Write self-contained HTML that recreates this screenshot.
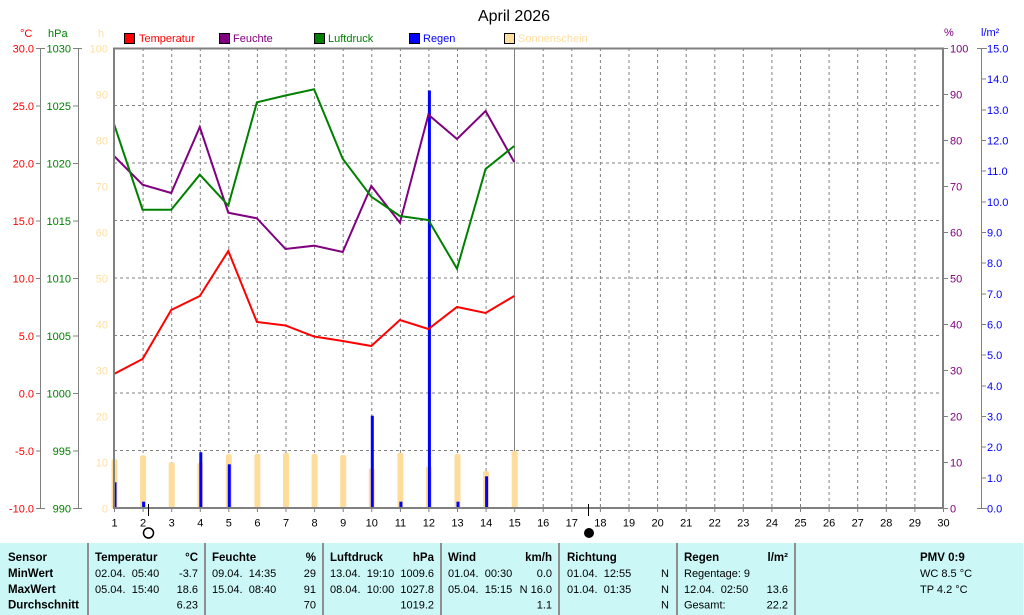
<!DOCTYPE html>
<html><head><meta charset="utf-8"><style>
html,body{margin:0;padding:0;background:#fff;}
svg{display:block;font-family:"Liberation Sans",Arial,sans-serif;}
text{white-space:pre;}
</style></head><body>
<svg width="1024" height="615" viewBox="0 0 1024 615" xmlns="http://www.w3.org/2000/svg">
<rect width="1024" height="615" fill="#fff"/>
<text x="514" y="21" font-size="16" text-anchor="middle" fill="#000">April 2026</text>
<g font-size="11">
<text x="20" y="37" fill="#f00">°C</text>
<text x="48" y="37" fill="#008000">hPa</text>
<text x="98" y="37" fill="#ffdf9f">h</text>
<text x="944" y="36" fill="#800080">%</text>
<text x="981" y="36" fill="#00f">l/m²</text>
<rect x="124.5" y="33.5" width="10" height="10" fill="#f00" stroke="#000"/>
<text x="139" y="42" fill="#f00">Temperatur</text>
<rect x="219.5" y="33.5" width="10" height="10" fill="#800080" stroke="#000"/>
<text x="233" y="42" fill="#800080">Feuchte</text>
<rect x="314.5" y="33.5" width="10" height="10" fill="#008000" stroke="#000"/>
<text x="328" y="42" fill="#008000">Luftdruck</text>
<rect x="409.5" y="33.5" width="10" height="10" fill="#00f" stroke="#000"/>
<text x="423" y="42" fill="#00f">Regen</text>
<rect x="504.5" y="33.5" width="10" height="10" fill="#ffdf9f" stroke="#000"/>
<text x="518" y="42" fill="#ffdf9f">Sonnenschein</text>
</g>
<!-- grid -->
<g stroke="#808080" stroke-width="1" stroke-dasharray="3,3" fill="none">
<path d="M114 105.5H943M114 163H943M114 220.5H943M114 278H943M114 335.5H943M114 393H943M114 450.5H943"/>
<path d="M143.1 48V508M171.7 48V508M200.3 48V508M228.8 48V508M257.4 48V508M286 48V508M314.6 48V508M343.2 48V508M371.8 48V508M400.4 48V508M428.9 48V508M457.5 48V508M486.1 48V508M543.2 48V508M571.8 48V508M600.4 48V508M629 48V508M657.6 48V508M686.2 48V508M714.8 48V508M743.3 48V508M771.9 48V508M800.5 48V508M829.1 48V508M857.7 48V508M886.3 48V508M914.9 48V508"/>
</g>
<path d="M514.5 48V508" stroke="#808080" stroke-width="1"/>
<!-- sunshine bars -->
<g fill="#fddc9c">
<rect x="111.5" y="459.3" width="6" height="49" rx="2"/>
<rect x="140.1" y="455.3" width="6" height="53" rx="2"/>
<rect x="168.7" y="462.3" width="6" height="46" rx="2"/>
<rect x="197.3" y="462.7" width="6" height="46" rx="2"/>
<rect x="225.8" y="454.3" width="6" height="54" rx="2"/>
<rect x="254.4" y="454" width="6" height="54" rx="2"/>
<rect x="283" y="453" width="6" height="55" rx="2"/>
<rect x="311.6" y="454" width="6" height="54" rx="2"/>
<rect x="340.2" y="455" width="6" height="53" rx="2"/>
<rect x="368.8" y="468.3" width="6" height="40" rx="2"/>
<rect x="397.4" y="452.7" width="6" height="55" rx="2"/>
<rect x="425.9" y="466.3" width="6" height="42" rx="2"/>
<rect x="454.5" y="454" width="6" height="54" rx="2"/>
<rect x="483.1" y="471" width="6" height="37" rx="2"/>
<rect x="511.7" y="451" width="6" height="57" rx="2"/>
</g>
<!-- rain bars -->
<g fill="#00f">
<rect x="113.5" y="482.3" width="3" height="26"/>
<rect x="142.1" y="501.7" width="3" height="7"/>
<rect x="199.3" y="452.3" width="3" height="56"/>
<rect x="227.8" y="464.3" width="3" height="44"/>
<rect x="370.8" y="415.7" width="3" height="93"/>
<rect x="399.4" y="501.7" width="3" height="7"/>
<rect x="427.9" y="90.5" width="3" height="418"/>
<rect x="456.5" y="501.7" width="3" height="7"/>
<rect x="485.1" y="476.3" width="3" height="32"/>
</g>
<!-- lines -->
<g fill="none" stroke-width="2" stroke-linejoin="miter">
<polyline stroke="#f00" points="114,374 142.6,359 171.2,310 199.8,296 228.3,251 256.9,322 285.5,325.5 314.1,336.5 342.7,341 371.3,346 399.9,320 428.4,329 457,307 485.6,313 514.2,296"/>
<polyline stroke="#800080" points="114,156 142.6,184.7 171.2,193 199.8,127 228.3,212.7 256.9,218.3 285.5,249 314.1,245.7 342.7,252 371.3,186 399.9,222.7 428.4,114.7 457,139 485.6,111 514.2,162"/>
<polyline stroke="#008000" points="114,124 142.6,209.7 171.2,209.7 199.8,174.7 228.3,205.5 256.9,102.3 285.5,95.5 314.1,89.3 342.7,158.7 371.3,196.7 399.9,216 428.4,220 457,268.7 485.6,169 514.2,146"/>
</g>
<!-- plot border -->
<rect x="114" y="48.5" width="829" height="459.5" fill="none" stroke="#808080" stroke-width="2"/>
<!-- x ticks -->
<g stroke="#808080" stroke-width="1">
<path d="M114.5 508V512M143.1 508V512M171.7 508V512M200.3 508V512M228.8 508V512M257.4 508V512M286 508V512M314.6 508V512M343.2 508V512M371.8 508V512M400.4 508V512M428.9 508V512M457.5 508V512M486.1 508V512M514.7 508V512M543.2 508V512M571.8 508V512M600.4 508V512M629 508V512M657.6 508V512M686.2 508V512M714.8 508V512M743.3 508V512M771.9 508V512M800.5 508V512M829.1 508V512M857.7 508V512M886.3 508V512M914.9 508V512M943.5 508V512"/>
<!-- left axes -->
<path d="M40.5 48V508M36 48.5H45M36 106H41M36 163.5H41M36 221H41M36 278.5H41M36 336H41M36 393.5H41M36 451H41M36 508.5H45"/>
<path d="M78.5 48V508M73 48.5H82M73 106H78M73 163.5H78M73 221H78M73 278.5H78M73 336H78M73 393.5H78M73 451H78M73 508.5H82"/>
<!-- right axes -->
<path d="M943 48.5H948M943 94.5H948M943 140.5H948M943 186.5H948M943 232.5H948M943 278.5H948M943 324.5H948M943 370.5H948M943 416.5H948M943 462.5H948M943 508.5H948"/>
<path d="M981.5 48V508M977 48.5H987M981.5 79H986M981.5 110H986M981.5 140.5H986M981.5 171H986M981.5 202H986M981.5 232.5H986M981.5 263H986M981.5 294H986M981.5 324.5H986M981.5 355H986M981.5 386H986M981.5 416.5H986M981.5 447H986M981.5 478H986M977 508.5H987"/>
</g>
<g font-size="11">
<g fill="#f00" text-anchor="end">
<text x="34" y="52.5">30.0</text><text x="34" y="110">25.0</text><text x="34" y="167.5">20.0</text><text x="34" y="225">15.0</text><text x="34" y="282.5">10.0</text><text x="34" y="340">5.0</text><text x="34" y="397.5">0.0</text><text x="34" y="455">-5.0</text><text x="34" y="512.5">-10.0</text>
</g>
<g fill="#008000" text-anchor="end">
<text x="71" y="52.5">1030</text><text x="71" y="110">1025</text><text x="71" y="167.5">1020</text><text x="71" y="225">1015</text><text x="71" y="282.5">1010</text><text x="71" y="340">1005</text><text x="71" y="397.5">1000</text><text x="71" y="455">995</text><text x="71" y="512.5">990</text>
</g>
<g fill="#ffdf9f" text-anchor="end">
<text x="108" y="52.5">100</text><text x="108" y="98.5">90</text><text x="108" y="144.5">80</text><text x="108" y="190.5">70</text><text x="108" y="236.5">60</text><text x="108" y="282.5">50</text><text x="108" y="328.5">40</text><text x="108" y="374.5">30</text><text x="108" y="420.5">20</text><text x="108" y="466.5">10</text><text x="108" y="512.5">0</text>
</g>
<g fill="#800080">
<text x="950" y="52.5">100</text><text x="950" y="98.5">90</text><text x="950" y="144.5">80</text><text x="950" y="190.5">70</text><text x="950" y="236.5">60</text><text x="950" y="282.5">50</text><text x="950" y="328.5">40</text><text x="950" y="374.5">30</text><text x="950" y="420.5">20</text><text x="950" y="466.5">10</text><text x="950" y="512.5">0</text>
</g>
<g fill="#00f">
<text x="987" y="52.5">15.0</text><text x="987" y="83">14.0</text><text x="987" y="114">13.0</text><text x="987" y="144.5">12.0</text><text x="987" y="175">11.0</text><text x="987" y="206">10.0</text><text x="987" y="236.5">9.0</text><text x="987" y="267">8.0</text><text x="987" y="298">7.0</text><text x="987" y="328.5">6.0</text><text x="987" y="359">5.0</text><text x="987" y="390">4.0</text><text x="987" y="420.5">3.0</text><text x="987" y="451">2.0</text><text x="987" y="482">1.0</text><text x="987" y="512.5">0.0</text>
</g>
<g fill="#000" text-anchor="middle">
<text x="114.5" y="526.5">1</text><text x="143.1" y="526.5">2</text><text x="171.7" y="526.5">3</text><text x="200.3" y="526.5">4</text><text x="228.8" y="526.5">5</text><text x="257.4" y="526.5">6</text><text x="286" y="526.5">7</text><text x="314.6" y="526.5">8</text><text x="343.2" y="526.5">9</text><text x="371.8" y="526.5">10</text><text x="400.4" y="526.5">11</text><text x="428.9" y="526.5">12</text><text x="457.5" y="526.5">13</text><text x="486.1" y="526.5">14</text><text x="514.7" y="526.5">15</text><text x="543.2" y="526.5">16</text><text x="571.8" y="526.5">17</text><text x="600.4" y="526.5">18</text><text x="629" y="526.5">19</text><text x="657.6" y="526.5">20</text><text x="686.2" y="526.5">21</text><text x="714.8" y="526.5">22</text><text x="743.3" y="526.5">23</text><text x="771.9" y="526.5">24</text><text x="800.5" y="526.5">25</text><text x="829.1" y="526.5">26</text><text x="857.7" y="526.5">27</text><text x="886.3" y="526.5">28</text><text x="914.9" y="526.5">29</text><text x="943.5" y="526.5">30</text>
</g>
</g>
<!-- moon markers -->
<path d="M148.5 504V516M588.5 504V516" stroke="#000" stroke-width="1"/>
<circle cx="148.5" cy="533" r="5" fill="none" stroke="#000" stroke-width="1.5"/>
<circle cx="589" cy="533" r="5" fill="#000"/>
<!-- table -->
<rect x="0" y="543" width="1023" height="72" fill="#ccf7f7"/>
<g stroke="#909090" stroke-width="2">
<path d="M88 543V615M205 543V615M323 543V615M441 543V615M559 543V615M677 543V615M795 543V615"/>
</g>
<g font-size="11.5" font-weight="bold" fill="#000">
<text x="8" y="561">Sensor</text>
<text x="8" y="577">MinWert</text>
<text x="8" y="593">MaxWert</text>
<text x="8" y="608.5">Durchschnitt</text>
<text x="95" y="561">Temperatur</text><text x="198" y="561" text-anchor="end">°C</text>
<text x="212" y="561">Feuchte</text><text x="316" y="561" text-anchor="end">%</text>
<text x="330" y="561">Luftdruck</text><text x="434" y="561" text-anchor="end">hPa</text>
<text x="448" y="561">Wind</text><text x="552" y="561" text-anchor="end">km/h</text>
<text x="567" y="561">Richtung</text>
<text x="684" y="561">Regen</text><text x="788" y="561" text-anchor="end">l/m²</text>
<text x="920" y="561">PMV 0:9</text>
</g>
<g font-size="11" fill="#000">
<text x="95" y="577">02.04.  05:40</text><text x="198" y="577" text-anchor="end">-3.7</text>
<text x="95" y="593">05.04.  15:40</text><text x="198" y="593" text-anchor="end">18.6</text>
<text x="198" y="608.5" text-anchor="end">6.23</text>
<text x="212" y="577">09.04.  14:35</text><text x="316" y="577" text-anchor="end">29</text>
<text x="212" y="593">15.04.  08:40</text><text x="316" y="593" text-anchor="end">91</text>
<text x="316" y="608.5" text-anchor="end">70</text>
<text x="330" y="577">13.04.  19:10</text><text x="434" y="577" text-anchor="end">1009.6</text>
<text x="330" y="593">08.04.  10:00</text><text x="434" y="593" text-anchor="end">1027.8</text>
<text x="434" y="608.5" text-anchor="end">1019.2</text>
<text x="448" y="577">01.04.  00:30</text><text x="552" y="577" text-anchor="end">0.0</text>
<text x="448" y="593">05.04.  15:15</text><text x="552" y="593" text-anchor="end">N 16.0</text>
<text x="552" y="608.5" text-anchor="end">1.1</text>
<text x="567" y="577">01.04.  12:55</text><text x="669" y="577" text-anchor="end">N</text>
<text x="567" y="593">01.04.  01:35</text><text x="669" y="593" text-anchor="end">N</text>
<text x="669" y="608.5" text-anchor="end">N</text>
<text x="684" y="577">Regentage: 9</text>
<text x="684" y="593">12.04.  02:50</text><text x="788" y="593" text-anchor="end">13.6</text>
<text x="684" y="608.5">Gesamt:</text><text x="788" y="608.5" text-anchor="end">22.2</text>
<text x="920" y="577">WC 8.5 °C</text>
<text x="920" y="593">TP 4.2 °C</text>
</g>
</svg>
</body></html>
